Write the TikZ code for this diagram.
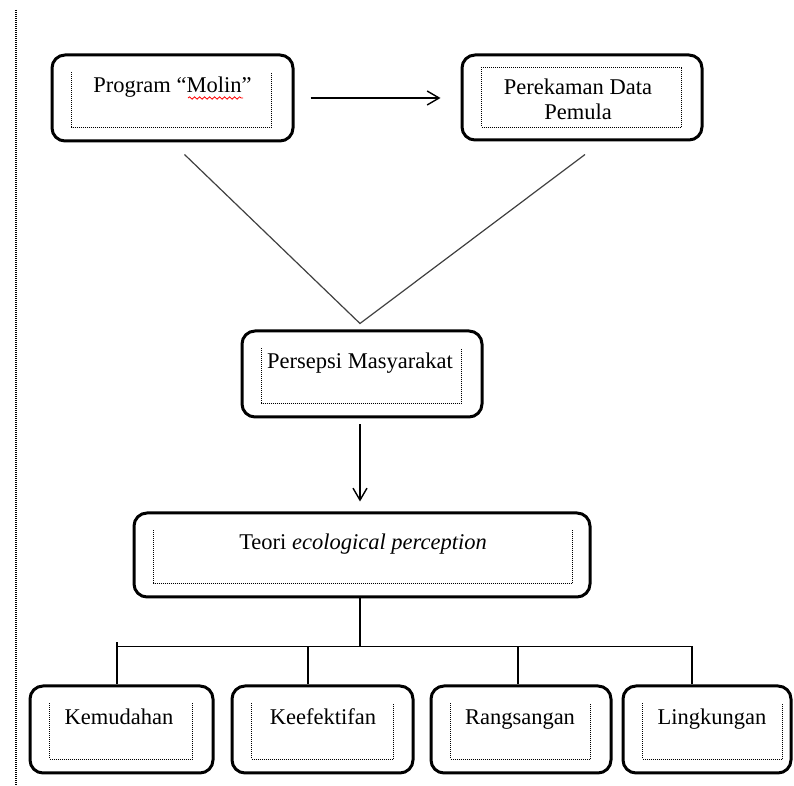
\documentclass[tikz,border=0pt]{standalone}
\usepackage{fontspec}
\setmainfont{Liberation Serif}
\usetikzlibrary{arrows.meta, decorations.pathmorphing}

\begin{document}
\begin{tikzpicture}[> = {Straight Barb[length = 6pt, width = 7pt]}, x = 0.5pt, y = -0.5pt,
	outerbox/.style = {draw, line width = 1.5pt, rounded corners = 6.5pt, minimum height = 43pt, inner sep = 0pt},
	dotline/.style = {line width = 0.7pt, dash pattern = on 0.5pt off 0.5pt},
	caption/.style = {anchor = base, inner sep = 0pt, font = \fontsize{11.25}{13}\selectfont},
	link/.style = {line width = 0.7pt}]

	\useasboundingbox (0, 0) rectangle (794, 786);

	% Page margin
	
	\draw [dotline] (16, 10) -- (16, 786);

	% Boxes
	
	\node [outerbox, minimum width = 120.5pt] (molin) at (172.5, 98) {};
	\node [outerbox, minimum width = 120pt, minimum height = 42.5pt] (rekam) at (582, 97.5) {};
	\node [outerbox, minimum width = 120pt] (persepsi) at (362, 374) {};
	\node [outerbox, minimum width = 228pt, minimum height = 42pt] (teori) at (362, 555) {};
	\node [outerbox, minimum width = 91.5pt, minimum height = 43.5pt] (kemudahan) at (121.5, 729.5) {};
	\node [outerbox, minimum width = 90.5pt, minimum height = 43.5pt] (keefektifan) at (322.5, 729.5) {};
	\node [outerbox, minimum width = 90pt, minimum height = 43.5pt] (rangsangan) at (521, 729.5) {};
	\node [outerbox, minimum width = 84pt, minimum height = 43.5pt] (lingkungan) at (707, 729.5) {};

	% Dotted frames inside the boxes
	
	\foreach \boxname/\rin in {molin/-11.5pt, persepsi/-11pt, teori/-9.5pt, kemudahan/-11pt, keefektifan/-10.5pt, rangsangan/-11pt, lingkungan/-5pt}
		\draw [dotline] ([xshift = 10.5pt, yshift = -9.5pt] \boxname.north west) -- ([xshift = 10.5pt, yshift = 7.5pt] \boxname.south west) -- ([xshift = \rin, yshift = 7.5pt] \boxname.south east) -- ([xshift = \rin, yshift = -9.5pt] \boxname.north east);
	\draw [dotline] ([xshift = 10.5pt, yshift = -7pt] rekam.north west) rectangle ([xshift = -11pt, yshift = 7pt] rekam.south east);

	% Texts
	
	\node [caption] (molintext) at (172.5, 93) {Program “Molin”};
	\draw [red, line width = 0.4pt, decorate, decoration = {snake, amplitude = 0.6pt, segment length = 2.5pt}] (188, 98) -- (243, 98);
	\node [caption] (rekamtext1) at (578, 95) {Perekaman Data};
	\node [caption] (rekamtext2) at (578, 120) {Pemula};
	\node [caption] (persepsitext) at (360, 369) {Persepsi Masyarakat};
	\node [caption] (teoritext) at (363, 550) {Teori \textit{ecological perception}};
	\node [caption] (kemudahantext) at (119, 725) {Kemudahan};
	\node [caption] (keefektifantext) at (323, 725) {Keefektifan};
	\node [caption] (rangsangantext) at (520, 725) {Rangsangan};
	\node [caption] (lingkungantext) at (712, 725) {Lingkungan};

	% Connectors
	
	\draw [link, ->] ([xshift = 8pt] molin.east) -- ([xshift = -10pt] rekam.west |- molin.east);
	\coordinate (apex) at ([xshift = -1pt, yshift = 3pt] persepsi.north);
	\draw [black!75, line width = 0.6pt] ([xshift = 6pt, yshift = -6pt] molin.south) -- (apex) -- ([xshift = 1.5pt, yshift = -6.5pt] rekam.south);
	\draw [link, ->] ([xshift = -1pt, yshift = -3pt] persepsi.south) -- ([xshift = -1pt, yshift = 5pt] teori.north);

	% Branches
	
	\coordinate (bar) at ([xshift = -1pt, yshift = -24pt] teori.south);
	\draw [link] ([xshift = -1pt] teori.south) -- (bar);
	\draw [link] ([xshift = -2.25pt, yshift = 2pt] bar -| kemudahan.north) -- ([xshift = -2.25pt] kemudahan.north);
	\draw [link] ([xshift = -2.25pt] bar -| kemudahan.north) -- ([xshift = -7.5pt] bar -| lingkungan.north);
	\foreach \boxname/\dx in {keefektifan/-7.25pt, rangsangan/-1.5pt, lingkungan/-7.5pt}
		\draw [link] ([xshift = \dx] bar -| \boxname.north) -- ([xshift = \dx] \boxname.north);

\end{tikzpicture}
\end{document}
